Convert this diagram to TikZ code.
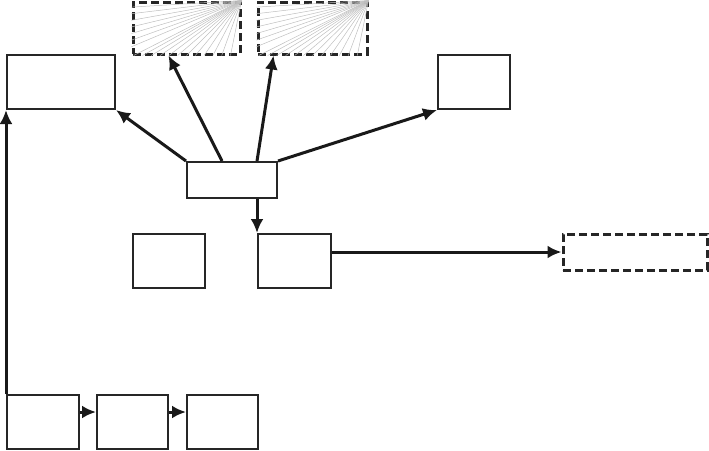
\documentclass[tikz,border=0pt]{standalone}
\usetikzlibrary{arrows.meta,calc}
\begin{document}
\begin{tikzpicture}[x=1pt,y=-1pt,
  solidbox/.style={draw=black!85,line width=2pt,inner sep=0pt,fill=white},
  dashbox/.style={draw=black!85,line width=3pt,inner sep=0pt,dash pattern=on 8pt off 4pt},
  conn/.style={draw=black!90,line width=3pt,-{Latex[length=14pt,width=13pt]}},
  fan/.style={draw=black!25,line width=0.5pt}]
\useasboundingbox (0,0) rectangle (709,450);
% nodes
\node[dashbox,minimum width=107pt,minimum height=52pt] (A) at (186.5,28) {};
\node[dashbox,minimum width=109pt,minimum height=52pt] (B) at (312.5,28) {};
\node[solidbox,minimum width=108pt,minimum height=54pt] (TL) at (61,82) {};
\node[solidbox,minimum width=90pt,minimum height=36pt] (C) at (232,180) {};
\node[solidbox,minimum width=72pt,minimum height=54pt] (TR) at (474,82) {};
\node[solidbox,minimum width=72pt,minimum height=54pt] (E) at (169,261) {};
\node[solidbox,minimum width=73pt,minimum height=54pt] (D) at (294.5,261) {};
\node[dashbox,minimum width=144pt,minimum height=36pt] (F) at (635,252) {};
\node[solidbox,minimum width=72pt,minimum height=54pt] (b1) at (43,422) {};
\node[solidbox,minimum width=71pt,minimum height=54pt] (b2) at (132.5,422) {};
\node[solidbox,minimum width=71pt,minimum height=54pt] (b3) at (222.5,422) {};
% fan hatching in dashed top boxes
\foreach \n in {A,B}{
  \foreach \t in {0.12,0.24,...,0.95}{
    \draw[fan] (\n.north east) -- ($(\n.north west)!\t!(\n.south west)$);
  }
  \foreach \t in {0.02,0.1,...,0.95}{
    \draw[fan] (\n.north east) -- ($(\n.south west)!\t!(\n.south east)$);
  }
}
% connectors
\draw[conn] (C.north west) -- (TL.south east);
\draw[conn] ($(C.north west)+(36,0)$) -- ($(A.south west)+(37,0)$);
\draw[conn] ($(C.north west)+(71,0)$) -- ($(B.south west)+(17,0)$);
\draw[conn] (C.north east) -- (TR.south west);
\draw[conn] ($(C.south west)+(71,0)$) -- (D.north west);
\draw[conn] (D.east |- F.west) -- (F.west);
\draw[conn] (b1.north west) -- (TL.south west);
\draw[conn] ($(b1.north east)+(0,18)$) -- ($(b2.north west)+(0,18)$);
\draw[conn] ($(b2.north east)+(0,18)$) -- ($(b3.north west)+(0,18)$);
\end{tikzpicture}
\end{document}
